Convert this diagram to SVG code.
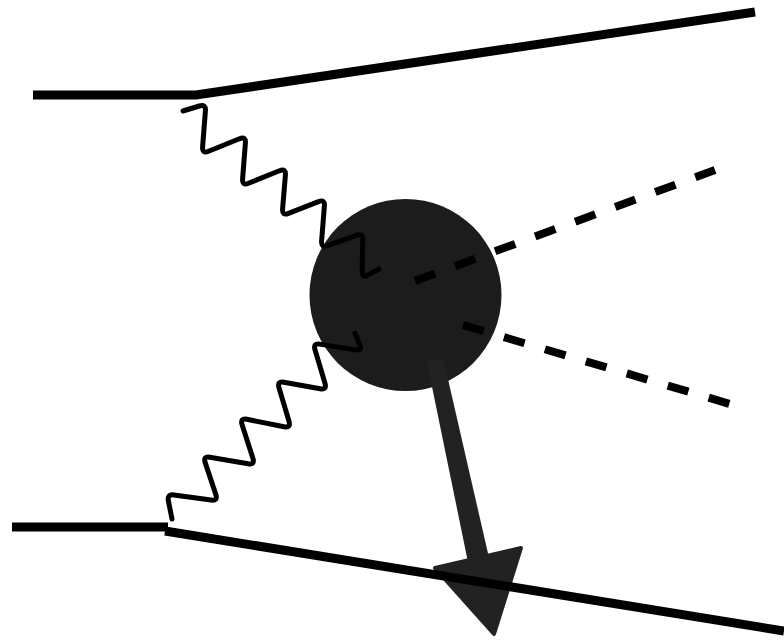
<svg xmlns="http://www.w3.org/2000/svg" width="784" height="642" viewBox="0 0 784 642">
  <style>
    .fermion { fill: none; stroke: #000; stroke-width: 9; stroke-linecap: butt; }
    .photon { fill: none; stroke: #000; stroke-width: 5; stroke-linejoin: round; stroke-linecap: round; }
    .scalar { fill: none; stroke: #000; stroke-width: 8; stroke-dasharray: 21.5 21.2; }
    .arrow { fill: #222; stroke: #222; stroke-width: 4; stroke-linejoin: round; }
  </style>
  <rect width="784" height="642" fill="#fff"/>
  <g id="blob">
    <circle cx="405.5" cy="295" r="96" fill="#1c1c1c"/>
  </g>
  <g id="connectors">
    <g id="photons">
      <path class="photon" d="M183,111 L199.3,106 Q206,104 205.4,111 L202.6,147 Q202,154 208.5,151.3 L239.5,138.7 Q246,136 245.4,143 L242.6,179 Q242,186 248.5,183.3 L279.5,170.7 Q286,168 285.4,175 L282.6,209 Q282,216 288.5,213.4 L318.5,201.6 Q325,199 324.4,206 L321.6,241 Q321,248 327.6,245.6 L356.4,235.4 Q363,233 362.8,240 L362.15,271 Q362,278 366.4,275.7 L379,269"/>
      <path class="photon" d="M172,519 L168.4,500.9 Q167,494 173.9,495 L211.1,500 Q218,501 215.8,494.4 L205.2,462.6 Q203,456 209.9,457.2 L248.1,463.8 Q255,465 252.9,458.3 L242.1,424.7 Q240,418 246.9,419.3 L284.1,426.7 Q291,428 289,421.3 L279,387.7 Q277,381 283.9,382.2 L320.1,388.8 Q327,390 325,383.3 L315,349.7 Q313,343 319.9,344.1 L355.1,349.9 Q362,351 360.2,346.3 L355,333"/>
    </g>
    <g id="scalars">
      <path class="scalar" d="M415,281 L715,170"/>
      <path class="scalar" d="M463,325 L730,404"/>
    </g>
    <g id="recoil-arrow">
      <polygon class="arrow" points="429,362 442,362 487,558 470,562"/>
      <polygon class="arrow" points="435,568 521,548 494,634"/>
    </g>
    <g id="fermions">
      <path class="fermion" d="M33,95 L196,95 L755,12"/>
      <path class="fermion" d="M12,527 L168,527"/>
      <path class="fermion" d="M165,531 L784,631"/>
    </g>
  </g>
</svg>
